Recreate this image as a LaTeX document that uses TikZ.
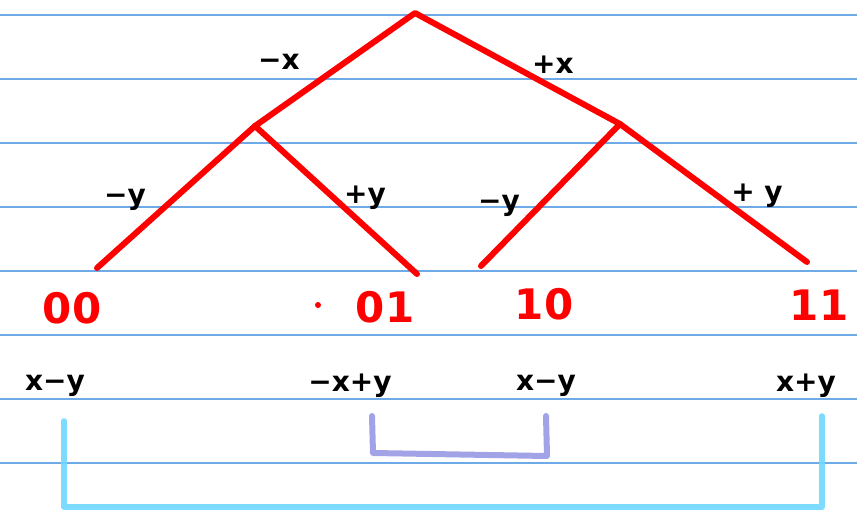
\documentclass[tikz,border=0pt]{standalone}
\usepackage{fontspec}
\setmainfont{DejaVu Sans}
\begin{document}
\begin{tikzpicture}[x=1pt,y=-1pt,
  rule/.style={draw=rulecol,line width=1.5pt},
  branch/.style={draw=treered,line width=6pt,line cap=round,line join=round},
  lbl/.style={font=\fontsize{28}{32}\selectfont\bfseries,text=black,inner sep=0pt},
  bits/.style={font=\fontsize{42}{46}\selectfont\bfseries,text=treered,inner sep=0pt},
  dotmark/.style={circle,fill=treered,inner sep=0pt,minimum size=6pt},
  pbracket/.style={draw=purplecol,line width=6pt,opacity=0.75,line cap=round,line join=round},
  cbracket/.style={draw=cyancol,line width=5.5pt,opacity=0.9,line cap=round,line join=round}]
\definecolor{rulecol}{HTML}{6FAAE8}
\definecolor{treered}{HTML}{FF0000}
\definecolor{purplecol}{HTML}{8484E0}
\definecolor{cyancol}{HTML}{6FD8FF}
\useasboundingbox (0,0) rectangle (857,510);
\fill[white] (0,0) rectangle (857,510);
% ruled lines
\foreach \yy in {15,79,143,207,271,335,399,463}
  \draw[rule] (0,\yy) -- (857,\yy);
% tree
\coordinate (r) at (415,13);
\coordinate (l) at (255,126);
\coordinate (rr) at (620,124);
\coordinate (l0) at (97,268);
\coordinate (l1) at (417,274);
\coordinate (r0) at (481,266);
\coordinate (r1) at (807,262);
\draw[branch] (l) -- (r) -- (rr);
\draw[branch] (l0) -- (l) -- (l1);
\draw[branch] (r0) -- (rr) -- (r1);
% edge labels
\node[lbl] (ex1) at (279,62) {−x};
\node[lbl] (ex2) at (553,65) {+x};
\node[lbl] (ey1) at (125,200) {−y};
\node[lbl] (ey2) at (365,198) {+y};
\node[lbl] (ey3) at (499,206) {−y};
\node[lbl] (ey4) at (757,196) {+ y};
% bit labels
\node[bits] (b00) at (72,308) {00};
\node[dotmark] (dot) at (318,305) {};
\node[bits] (b01) at (385,307) {01};
\node[bits] (b10) at (544,304) {10};
\node[bits] (b11) at (819,305) {11};
% expressions
\node[lbl] (e1) at (55,386) {x−y};
\node[lbl] (e2) at (350,386) {−x+y};
\node[lbl] (e3) at (546,386) {x−y};
\node[lbl] (e4) at (806,386) {x+y};
% brackets
\coordinate (p1) at (372,416);
\coordinate (p2) at (373,453);
\coordinate (p3) at (547,456);
\coordinate (p4) at (546,416);
\draw[pbracket] (p1) -- (p2) -- (p3) -- (p4);
\coordinate (c1) at (64,421);
\coordinate (c2) at (64,507);
\coordinate (c3) at (822,507);
\coordinate (c4) at (822,416);
\draw[cbracket] (c1) -- (c2) -- (c3) -- (c4);
\end{tikzpicture}
\end{document}
